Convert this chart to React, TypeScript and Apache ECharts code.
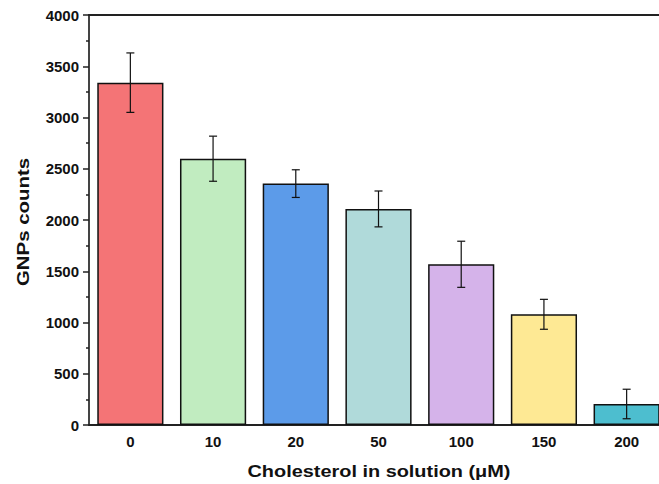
import React, { useEffect, useRef } from "react";
import * as echarts from "echarts";

const categories = ["0", "10", "20", "50", "100", "150", "200"];
const counts = [3340, 2598, 2355, 2108, 1568, 1080, 205];
const errors = [290, 220, 135, 175, 225, 146, 144];
const barColors = ["#F47476", "#C1ECC0", "#5C9BE9", "#B0DADA", "#D5B3EA", "#FEE994", "#4DBECF"];
const yTicks = { min: 0, max: 4000, interval: 500 };
const xTitle = "Cholesterol in solution (\u03bcM)";
const yTitle = "GNPs counts";

const FONT = "Liberation Sans, Arial, sans-serif";

export default function App() {
  const ref = useRef<HTMLDivElement>(null);
  useEffect(() => {
    const chart = echarts.init(ref.current!, null, { renderer: "svg" });
    chart.setOption({
      animation: false,
      grid: { left: 89, top: 15, width: 579, height: 410, containLabel: false, outerBoundsMode: "none" },
      graphic: [
        {
          type: "text",
          x: 379,
          y: 471,
          scaleX: 1.17,
          style: {
            text: xTitle,
            fill: "#111",
            font: "bold 17px " + FONT,
            align: "center",
            verticalAlign: "middle",
          },
        },
        {
          type: "text",
          x: 23,
          y: 222,
          rotation: Math.PI / 2,
          scaleX: 1.2,
          style: {
            text: yTitle,
            fill: "#111",
            font: "bold 17px " + FONT,
            align: "center",
            verticalAlign: "middle",
          },
        },
      ],
      xAxis: [
        {
          type: "category",
          data: categories,
          position: "bottom",
          axisLine: { lineStyle: { color: "#222", width: 2 } },
          axisTick: { show: false },
          axisLabel: { color: "#111", fontWeight: "bold", fontSize: 15, fontFamily: FONT, margin: 9 },
        },
        {
          type: "category",
          data: categories,
          position: "top",
          axisLine: { lineStyle: { color: "#222", width: 2 } },
          axisTick: { show: false },
          axisLabel: { show: false },
        },
      ],
      yAxis: {
        type: "value",
        min: yTicks.min,
        max: yTicks.max,
        interval: yTicks.interval,
        splitLine: { show: false },
        axisLine: { show: true, lineStyle: { color: "#444", width: 2 } },
        axisTick: { show: true, inside: false, length: 6, lineStyle: { color: "#222", width: 1.5 } },
        minorTick: { show: true, splitNumber: 2, length: 3, lineStyle: { color: "#222", width: 1.5 } },
        axisLabel: {
          color: "#111",
          fontWeight: "bold",
          fontSize: 15,
          fontFamily: FONT,
          margin: 10,
          formatter: (v: number) => String(v),
        },
      },
      series: [
        {
          type: "bar",
          barWidth: "80%",
          data: counts.map((v, i) => ({
            value: v,
            itemStyle: { color: barColors[i], borderColor: "#111", borderWidth: 1.5 },
          })),
        },
        {
          type: "custom",
          data: counts.map((v, i) => [i, v - errors[i], v + errors[i]]),
          z: 10,
          renderItem: (params: any, api: any) => {
            const x = api.value(0);
            const lo = api.coord([x, api.value(1)]);
            const hi = api.coord([x, api.value(2)]);
            const cap = 4;
            const style = { stroke: "#111", lineWidth: 1.2 };
            return {
              type: "group",
              children: [
                { type: "line", shape: { x1: hi[0], y1: hi[1], x2: lo[0], y2: lo[1] }, style },
                { type: "line", shape: { x1: hi[0] - cap, y1: hi[1], x2: hi[0] + cap, y2: hi[1] }, style },
                { type: "line", shape: { x1: lo[0] - cap, y1: lo[1], x2: lo[0] + cap, y2: lo[1] }, style },
              ],
            };
          },
        },
      ],
    });
    return () => chart.dispose();
  }, []);
  return <div ref={ref} style={{ width: 659, height: 484, position: "absolute", left: 0, top: 0 }} />;
}
